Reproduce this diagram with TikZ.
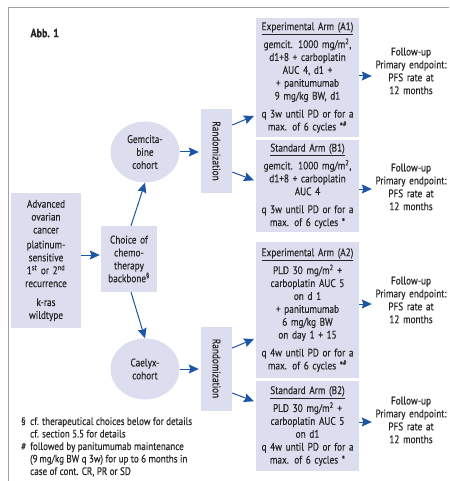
\documentclass[tikz,border=0pt]{standalone}
\usepackage{fontspec}
\setmainfont{PT Sans}[FakeStretch=0.84, FakeBold=0.35]
\usetikzlibrary{positioning,arrows.meta,shapes.geometric}
\definecolor{boxfill}{HTML}{DCDEF0}
\definecolor{arrowblue}{HTML}{1B55A5}
\definecolor{framegray}{HTML}{A0A0A0}
\definecolor{textgray}{HTML}{262626}

\begin{document}
\begin{tikzpicture}[
  x=1pt, y={(0pt,-1pt)},
  every node/.style={text=textgray, font=\fontsize{11}{12.9}\selectfont},
  mybox/.style={fill=boxfill, align=center, inner sep=3pt},
  armbox/.style={mybox, text width=99pt, minimum width=103pt, inner xsep=2pt},
  randbox/.style={mybox, minimum width=31pt, minimum height=84pt},
  cohort/.style={ellipse, fill=boxfill, align=center, inner sep=0pt,
    minimum width=69pt, minimum height=61pt},
  followup/.style={align=center, text width=78pt, inner sep=0pt},
  arr/.style={draw=arrowblue, line width=1pt, -{Stealth[length=10pt,width=9pt,inset=1.5pt]}}
]
\useasboundingbox (0,0) rectangle (449,481);
\draw[framegray, line width=0.8pt] (8,481) -- (8,7) -- (449,7);

\node[anchor=west, font=\fontsize{12}{14}\selectfont\bfseries] (abb) at (27,33) {Abb. 1};

% patients and backbone
\node[mybox, minimum width=70pt, minimum height=135pt, text width=66pt, inner xsep=2pt] (pat) at (46,260.5)
  {Advanced\\ ovarian\\ cancer\\[2pt] platinum-\\ sensitive\\ 1\textsuperscript{st} or 2\textsuperscript{nd}\\ recurrence\\[6pt] k-ras\\ wildtype};
\node[mybox, minimum width=56pt, minimum height=66pt, text width=54pt, inner xsep=1pt] (choice) at (129,259)
  {Choice of\\ chemo-\\ therapy\\ backbone\textsuperscript{\S}};

\node[cohort] (gem) at (145,152) {Gemcita-\\ bine\\ cohort};
\node[cohort] (cae) at (145,369) {Caelyx-\\ cohort};

\node[randbox] (rand1) at (216.5,151) {\rotatebox{-90}{Randomization}};
\node[randbox] (rand2) at (216.5,368.5) {\rotatebox{-90}{Randomization}};

% arms
\node[armbox, minimum height=119pt] (armA1) at (307.5,77.5)
  {\underline{Experimental Arm (A1)}\\[3pt] gemcit. 1000 mg/m\textsuperscript{2},\\ d1+8 + carboplatin\\ AUC 4, d1 +\\ + panitumumab\\ 9 mg/kg BW, d1\\[5pt] q 3w until PD or for a\\ max. of 6 cycles *\textsuperscript{\#}};
\node[armbox, minimum height=92pt] (armB1) at (307.5,186)
  {\underline{Standard Arm (B1)}\\[3pt] gemcit. 1000 mg/m\textsuperscript{2},\\ d1+8 + carboplatin\\ AUC 4\\[5pt] q 3w until PD or for a\\ max. of 6 cycles *};
\node[armbox, minimum height=136pt] (armA2) at (307.5,310)
  {\underline{Experimental Arm (A2)}\\[3pt] PLD 30 mg/m\textsuperscript{2} +\\ carboplatin AUC 5\\ on d 1\\ + panitumumab\\ 6 mg/kg BW\\ on day 1 + 15\\[5pt] q 4w until PD or for a\\ max. of 6 cycles *\textsuperscript{\#}};
\node[armbox, minimum height=90pt] (armB2) at (307.5,426)
  {\underline{Standard Arm (B2)}\\[3pt] PLD 30 mg/m\textsuperscript{2} +\\ carboplatin AUC 5\\ on d1\\ q 4w until PD or for a\\ max. of 6 cycles *};

\node[followup] (fuA1) at (411,71) {Follow-up\\ Primary endpoint:\\ PFS rate at\\ 12 months};
\node[followup] (fuB1) at (411,187) {Follow-up\\ Primary endpoint:\\ PFS rate at\\ 12 months};
\node[followup] (fuA2) at (411,300) {Follow-up\\ Primary endpoint:\\ PFS rate at\\ 12 months};
\node[followup] (fuB2) at (411,420) {Follow-up\\ Primary endpoint:\\ PFS rate at\\ 12 months};

% footnotes
\node[anchor=north west, align=left, inner sep=0pt, font=\fontsize{10.8}{12.5}\selectfont] (notes) at (21,416)
  {\begin{tabular}{@{}l@{\hspace{4pt}}l@{}}
   \S & cf. therapeutical choices below for details\\
   * & cf. section 5.5 for details\\
   \# & followed by panitumumab maintenance\\
      & (9\,mg/kg BW q 3w) for up to 6 months in\\
      & case of cont. CR, PR or SD
   \end{tabular}};

\path ([yshift=5.5pt]pat.east) edge[arr, shorten >=1pt] ([yshift=4pt]choice.west)
([xshift=2pt]choice.north) edge[arr] (gem.south)
([xshift=2pt]choice.south) edge[arr] (cae.north)
(gem.east) edge[arr, shorten >=2pt] (rand1.west |- gem.east)
(cae.east) edge[arr, shorten >=2pt] (rand2.west |- cae.east)
([yshift=26pt]rand1.east) edge[arr, shorten >=2pt] ([yshift=22pt]armA1.south west)
([yshift=-21pt]rand1.east) edge[arr, shorten >=2pt] ([yshift=5pt]armB1.west)
([yshift=20.5pt]rand2.east) edge[arr, shorten >=2pt] ([yshift=40pt]armA2.south west)
([yshift=-24.5pt]rand2.east) edge[arr, shorten >=2pt] ([yshift=24pt]armB2.west)
([yshift=1.5pt]armA1.east) edge[arr] ([yshift=-5pt]fuA1.west)
([yshift=-3pt]armB1.east) edge[arr] ([yshift=-2pt]fuB1.west)
([yshift=6pt]armA2.east) edge[arr] ([yshift=-4pt]fuA2.west)
([yshift=4pt]armB2.east) edge[arr] ([yshift=-2pt]fuB2.west)
;
\end{tikzpicture}
\end{document}
